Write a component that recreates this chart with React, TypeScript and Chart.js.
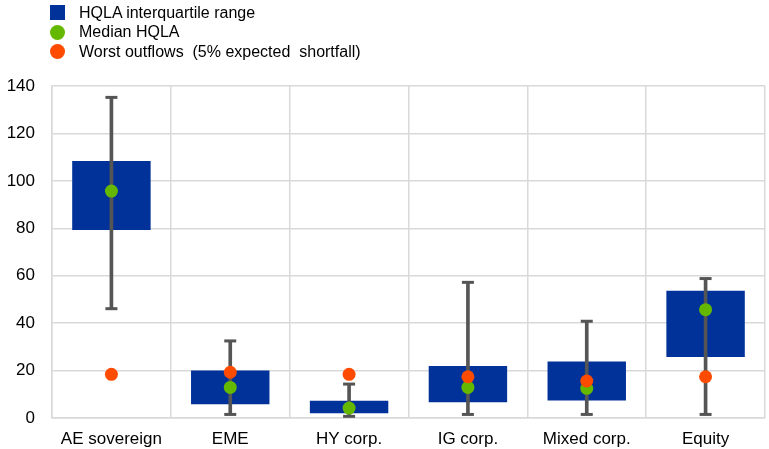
import React, { useEffect, useRef } from "react";
import { Chart, registerables } from "chart.js";

Chart.register(...registerables);

const categories = ["AE sovereign", "EME", "HY corp.", "IG corp.", "Mixed corp.", "Equity"];
const iqrLow = [79.3, 5.8, 2.0, 6.6, 7.4, 25.7];
const iqrHigh = [108.4, 20.0, 7.3, 21.9, 23.8, 53.7];
const whiskerMin = [46.1, 1.5, 0.7, 1.5, 1.5, 1.5];
const whiskerMax = [135.2, 32.5, 14.3, 57.2, 40.8, 58.8];
const medianHQLA = [95.7, 12.9, 4.2, 12.9, 12.5, 45.7];
const worstOutflows = [18.4, 19.3, 18.4, 17.4, 15.6, 17.4];
const yTicks = [0, 20, 40, 60, 80, 100, 120, 140];

const BLUE = "#003299";
const GREEN = "#65B800";
const ORANGE = "#FF4B00";
const GREY = "#555555";
const GRID = "#d9d9d9";
const FONT = "'Liberation Sans', Arial, sans-serif";

export default function App() {
  const ref = useRef<HTMLCanvasElement | null>(null);

  useEffect(() => {
    document.body.style.margin = "0";
    const ctx = ref.current!;
    const chart = new Chart(ctx, {
      type: "bar",
      data: {
        labels: categories,
        datasets: [
          {
            type: "bar",
            label: "HQLA interquartile range",
            data: iqrLow.map((v, i) => [v, iqrHigh[i]]) as any,
            backgroundColor: BLUE,
            borderWidth: 0,
            grouped: false,
            categoryPercentage: 1,
            barPercentage: 0.66,
            order: 5,
          } as any,
          {
            type: "bar",
            label: "whisker",
            data: whiskerMin.map((v, i) => [v, whiskerMax[i]]) as any,
            backgroundColor: GREY,
            borderWidth: 0,
            grouped: false,
            barThickness: 3,
            order: 4,
          } as any,
          {
            type: "line",
            label: "cap min",
            data: whiskerMin,
            showLine: false,
            pointStyle: "line",
            pointRadius: 6,
            pointBorderWidth: 3,
            borderColor: GREY,
            pointBorderColor: GREY,
            order: 3,
          } as any,
          {
            type: "line",
            label: "cap max",
            data: whiskerMax,
            showLine: false,
            pointStyle: "line",
            pointRadius: 6,
            pointBorderWidth: 3,
            borderColor: GREY,
            pointBorderColor: GREY,
            order: 3,
          } as any,
          {
            type: "line",
            label: "Median HQLA",
            data: medianHQLA,
            showLine: false,
            pointStyle: "circle",
            pointRadius: 6.5,
            pointBorderWidth: 0,
            pointBackgroundColor: GREEN,
            order: 1,
          } as any,
          {
            type: "line",
            label: "Worst outflows (5% expected shortfall)",
            data: worstOutflows,
            showLine: false,
            pointStyle: "circle",
            pointRadius: 6.5,
            pointBorderWidth: 0,
            pointBackgroundColor: ORANGE,
            order: 0,
          } as any,
        ],
      },
      options: {
        animation: false,
        responsive: true,
        maintainAspectRatio: false,
        layout: { autoPadding: false, padding: { top: 86, right: 4, left: 0, bottom: 0 } },
        plugins: {
          legend: { display: false },
          tooltip: { enabled: false },
        },
        scales: {
          x: {
            offset: true,
            grid: { color: GRID, lineWidth: 1.5, offset: true, drawTicks: false },
            border: { color: GRID, width: 1.5 },
            ticks: { color: "#000", font: { family: FONT, size: 17 }, padding: 11 },
            afterFit: (scale: any) => {
              scale.paddingLeft = 0;
              scale.paddingRight = 0;
              scale.height = 31;
            },
          },
          y: {
            min: 0,
            max: 140,
            afterBuildTicks: (axis: any) => {
              axis.ticks = yTicks.map((v) => ({ value: v }));
            },
            grid: { color: GRID, lineWidth: 1.5, drawTicks: false },
            border: { color: GRID, width: 1.5 },
            ticks: { color: "#000", font: { family: FONT, size: 17 }, padding: 17 },
            afterFit: (scale: any) => {
              scale.paddingTop = 0;
              scale.paddingBottom = 0;
              scale.width = 52;
            },
          },
        },
      },
    });
    return () => chart.destroy();
  }, []);

  const legendItems = [
    { label: "HQLA interquartile range", color: BLUE, shape: "square" },
    { label: "Median HQLA", color: GREEN, shape: "circle" },
    { label: "Worst outflows  (5% expected  shortfall)", color: ORANGE, shape: "circle" },
  ];

  return (
    <div style={{ position: "relative", width: 769, height: 449 }}>
      <canvas ref={ref} />
      <div style={{ position: "absolute", left: 50, top: 3, fontFamily: FONT, fontSize: 16, color: "#000" }}>
        {legendItems.map((it) => (
          <div key={it.label} style={{ display: "flex", alignItems: "center", height: 19.5, whiteSpace: "pre" }}>
            <span
              style={{
                display: "inline-block",
                width: 15,
                height: 15,
                background: it.color,
                borderRadius: it.shape === "circle" ? "50%" : 0,
                marginRight: 14,
              }}
            />
            <span>{it.label}</span>
          </div>
        ))}
      </div>
    </div>
  );
}
